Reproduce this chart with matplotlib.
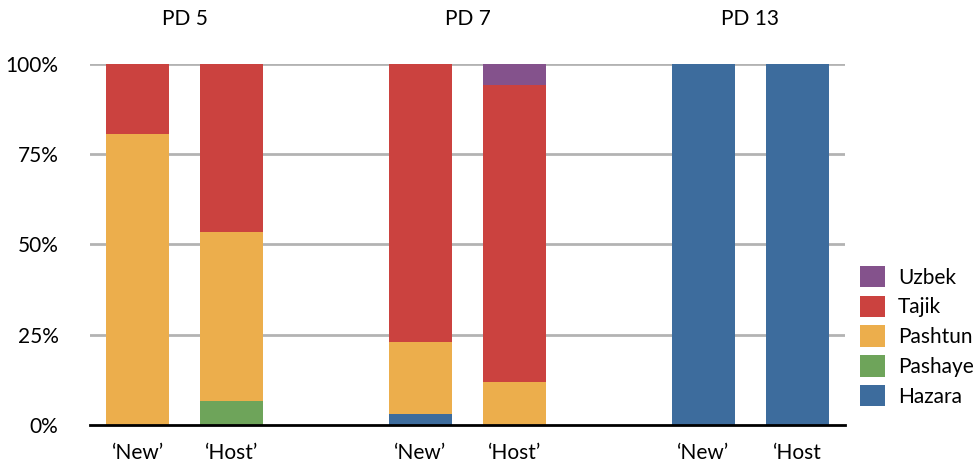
import matplotlib
matplotlib.use("Agg")
import matplotlib.pyplot as plt
from matplotlib.patches import Patch

plt.rcParams['font.family'] = ['Lato', 'DejaVu Sans']

# Share of respondents by ethnicity (%), for each district and group
bar_labels = ['‘New’', '‘Host’', '‘New’', '‘Host’', '‘New’', '‘Host']
districts = ['PD 5', 'PD 7', 'PD 13']
hazara = [0.0, 0.0, 3.0, 0.0, 100.0, 100.0]
pashaye = [0.0, 6.6, 0.0, 0.0, 0.0, 0.0]
pashtun = [80.7, 46.9, 20.0, 11.9, 0.0, 0.0]
tajik = [19.3, 46.5, 77.0, 82.2, 0.0, 0.0]
uzbek = [0.0, 0.0, 0.0, 5.9, 0.0, 0.0]

series = [
    ('Hazara', hazara, '#3D6C9D'),
    ('Pashaye', pashaye, '#6EA45A'),
    ('Pashtun', pashtun, '#ECAE4C'),
    ('Tajik', tajik, '#CB423F'),
    ('Uzbek', uzbek, '#84528C'),
]

x = [0, 1, 3, 4, 6, 7]
fs = 15

fig = plt.figure(figsize=(9.77, 4.63), dpi=100)
ax = fig.add_axes([0.0926, 0.082, 0.772, 0.780])

bottom = [0.0] * len(x)
for name, vals, color in series:
    ax.bar(x, vals, width=0.67, bottom=bottom, color=color, label=name, zorder=3)
    bottom = [b + v for b, v in zip(bottom, vals)]

ax.set_xlim(-0.5, 7.5)
ax.set_ylim(0, 100)
ax.set_yticks([0, 25, 50, 75, 100])
ax.set_yticklabels(['0%', '25%', '50%', '75%', '100%'], fontsize=fs)
ax.set_xticks(x)
ax.set_xticklabels(bar_labels, fontsize=fs)
ax.tick_params(axis='y', length=0, pad=23)
ax.tick_params(axis='x', length=0, pad=13)

for yv in [25, 50, 75, 100]:
    ax.axhline(yv, color='#B3B3B3', lw=2, zorder=1)

for s in ['top', 'right', 'left']:
    ax.spines[s].set_visible(False)
ax.spines['bottom'].set_color('black')
ax.spines['bottom'].set_linewidth(2)
ax.spines['bottom'].set_zorder(4)

# District titles above each pair of bars
for i, name in enumerate(districts):
    cx = (x[2 * i] + x[2 * i + 1]) / 2
    ax.text(cx, 1.125, name, transform=ax.get_xaxis_transform(),
            ha='center', va='center', fontsize=fs)

handles = [Patch(facecolor=c, label=n) for n, _, c in series][::-1]
fig.legend(handles=handles, loc='upper left', bbox_to_anchor=(0.880, 0.4255),
           frameon=False, fontsize=fs, handlelength=1.2, handleheight=1.2,
           labelspacing=0.385, handletextpad=0.625, borderaxespad=0, borderpad=0)

fig.savefig('out.png', dpi=100)
